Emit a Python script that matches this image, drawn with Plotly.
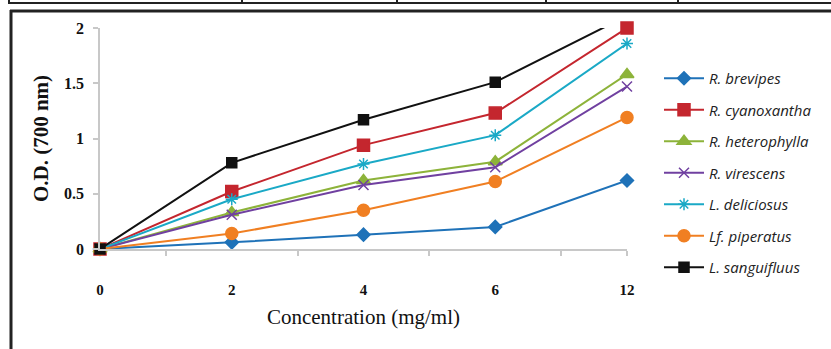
import plotly.graph_objects as go

categories = ["0", "2", "4", "6", "12"]
series_names = ["R. brevipes", "R. cyanoxantha", "R. heterophylla", "R. virescens",
                "L. deliciosus", "Lf. piperatus", "L. sanguifluus"]
brevipes = [0, 0.06, 0.13, 0.20, 0.62]
cyanoxantha = [0, 0.52, 0.94, 1.23, 2.00]
heterophylla = [0, 0.33, 0.62, 0.79, 1.58]
virescens = [0, 0.31, 0.58, 0.74, 1.47]
deliciosus = [0, 0.45, 0.77, 1.03, 1.86]
piperatus = [0, 0.14, 0.35, 0.61, 1.19]
sanguifluus = [0, 0.78, 1.17, 1.51, 2.11]
y_ticks = [0, 0.5, 1, 1.5, 2]
y_tick_labels = ["0", "0.5", "1", "1.5", "2"]

values = [brevipes, cyanoxantha, heterophylla, virescens, deliciosus, piperatus, sanguifluus]
colors = ["#1f72b8", "#c4262e", "#8db33a", "#7040a0", "#1aa9c6", "#f07f22", "#111111"]
symbols = ["diamond", "square", "triangle-up", "x-thin", "asterisk-open", "circle", "square"]
sizes = [10, 12, 12, 10, 10, 12, 10]

W, H = 831, 349
L, R, T, B = 100, 627, 28, 249

fig = go.Figure()
xpos = list(range(len(categories)))
for i, (name, vals, c, s, sz) in enumerate(zip(series_names, values, colors, symbols, sizes)):
    fig.add_trace(go.Scatter(
        x=xpos, y=vals, name="<i>" + name + "</i>", mode="lines+markers",
        legendgroup="g%d" % i,
        line=dict(color=c, width=2),
        marker=dict(symbol=s, size=sz, color=c, line=dict(color=c, width=1.5)),
        cliponaxis=False,
    ))

def px(xp):
    return (xp - L) / (R - L)

def py(yp):
    return (B - yp) / (B - T)

shapes = []
dark = "#222222"
# outer frame (left and top)
shapes.append(dict(type="line", xref="paper", yref="paper", x0=px(11), x1=px(11), y0=py(10), y1=py(352), line=dict(color=dark, width=3)))
shapes.append(dict(type="line", xref="paper", yref="paper", x0=px(10), x1=px(834), y0=py(11), y1=py(11), line=dict(color=dark, width=3)))
# fragment of table above
shapes.append(dict(type="line", xref="paper", yref="paper", x0=px(8), x1=px(834), y0=py(3), y1=py(3), line=dict(color=dark, width=2)))
for xv in [9, 242, 397, 546, 678]:
    shapes.append(dict(type="line", xref="paper", yref="paper", x0=px(xv), x1=px(xv), y0=py(-2), y1=py(3), line=dict(color=dark, width=2)))

fig.update_layout(
    width=W, height=H,
    margin=dict(l=L, r=W - R, t=T, b=H - B),
    paper_bgcolor="white", plot_bgcolor="white",
    shapes=shapes,
    showlegend=True,
    legend=dict(
        x=px(659), y=py(62), xanchor="left", yanchor="top",
        font=dict(family="Open Sans", size=15, color="#222"),
        tracegroupgap=9, itemwidth=40, traceorder="grouped",
        bgcolor="rgba(0,0,0,0)", maxheight=320,
    ),
    xaxis=dict(
        range=[0, len(categories) - 1],
        tickmode="array", tickvals=xpos, ticktext=["<b>%s</b>" % c for c in categories],
        ticks="", showgrid=False, zeroline=False,
        showline=True, linecolor="#c8c8c8", linewidth=1.5,
        tickfont=dict(family="Liberation Serif", size=15, color="#111"),
        ticklabelstandoff=26,
        minor=dict(tickmode="array", tickvals=[i + 0.5 for i in xpos[:-1]] + [xpos[-1]],
                   ticks="outside", ticklen=5, tickcolor="#c8c8c8", tickwidth=1.5),
        title=dict(text="Concentration (mg/ml)", standoff=13,
                   font=dict(family="Liberation Serif", size=21, color="#111")),
    ),
    yaxis=dict(
        range=[0, 2],
        tickmode="array", tickvals=y_ticks, ticktext=["<b>%s</b>" % t for t in y_tick_labels],
        ticks="outside", ticklen=5, tickcolor="#c8c8c8", tickwidth=1.5,
        showgrid=False, zeroline=False,
        showline=True, linecolor="#c8c8c8", linewidth=1.5,
        tickfont=dict(family="Liberation Serif", size=16, color="#111"),
        ticklabelstandoff=6,
        title=dict(text="<b>O.D. (700 nm)</b>", standoff=10,
                   font=dict(family="Liberation Serif", size=21, color="#111")),
    ),
)

fig.write_html("out.html", config={"displayModeBar": False},
               post_script="document.body.style.margin='0px';")
